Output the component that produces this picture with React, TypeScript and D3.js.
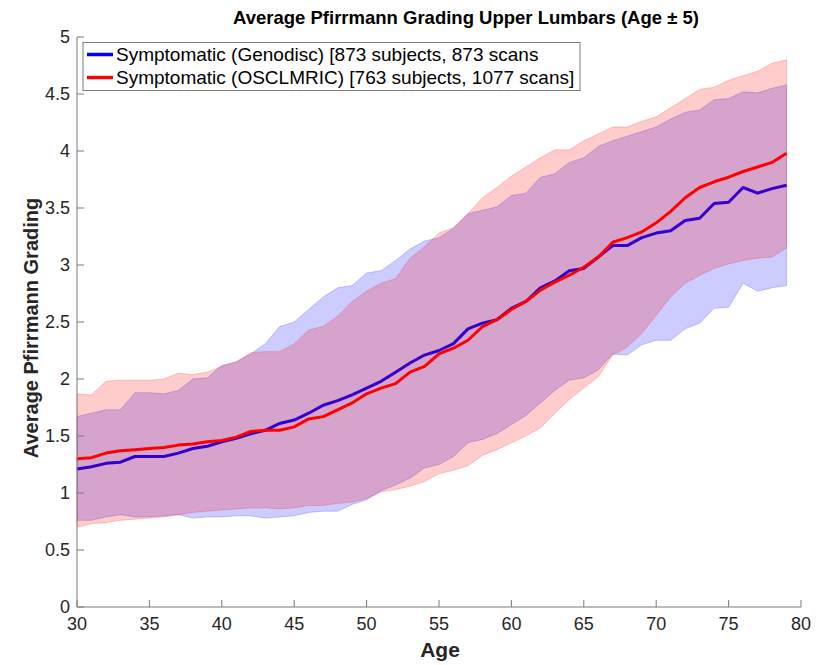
import React from 'react';
import * as d3 from 'd3';

// ages (x categories)
const ages = [30, 31, 32, 33, 34, 35, 36, 37, 38, 39, 40, 41, 42, 43, 44, 45, 46, 47, 48, 49,
  50, 51, 52, 53, 54, 55, 56, 57, 58, 59, 60, 61, 62, 63, 64, 65, 66, 67, 68, 69,
  70, 71, 72, 73, 74, 75, 76, 77, 78, 79];

// Genodisc (blue)
const genoMean = [1.21, 1.23, 1.26, 1.27, 1.32, 1.32, 1.32, 1.35, 1.39, 1.41, 1.45, 1.48, 1.52, 1.55, 1.61, 1.64, 1.70, 1.77, 1.81, 1.86,
  1.92, 1.98, 2.06, 2.14, 2.21, 2.25, 2.31, 2.44, 2.49, 2.52, 2.62, 2.68, 2.80, 2.86, 2.95, 2.97, 3.07, 3.17, 3.17, 3.24,
  3.28, 3.30, 3.39, 3.41, 3.54, 3.55, 3.68, 3.63, 3.67, 3.70];
const genoUpper = [1.67, 1.70, 1.73, 1.73, 1.88, 1.88, 1.87, 1.90, 2.00, 2.01, 2.12, 2.15, 2.22, 2.31, 2.46, 2.50, 2.61, 2.72, 2.80, 2.82,
  2.93, 2.95, 3.04, 3.14, 3.21, 3.24, 3.32, 3.45, 3.48, 3.51, 3.61, 3.63, 3.77, 3.80, 3.90, 3.94, 4.04, 4.09, 4.13, 4.17,
  4.21, 4.28, 4.34, 4.36, 4.45, 4.46, 4.52, 4.51, 4.55, 4.58];
const genoLower = [0.76, 0.76, 0.79, 0.81, 0.79, 0.79, 0.80, 0.81, 0.78, 0.79, 0.79, 0.80, 0.80, 0.78, 0.79, 0.80, 0.83, 0.84, 0.84, 0.90,
  0.94, 1.02, 1.07, 1.13, 1.22, 1.25, 1.32, 1.44, 1.47, 1.52, 1.60, 1.68, 1.79, 1.90, 1.99, 2.01, 2.08, 2.22, 2.21, 2.30,
  2.34, 2.34, 2.44, 2.49, 2.62, 2.63, 2.84, 2.77, 2.80, 2.82];

// OSCLMRIC (red)
const oscMean = [1.30, 1.31, 1.35, 1.37, 1.38, 1.39, 1.40, 1.42, 1.43, 1.45, 1.46, 1.49, 1.54, 1.55, 1.55, 1.58, 1.65, 1.67, 1.73, 1.79,
  1.87, 1.92, 1.96, 2.06, 2.11, 2.22, 2.27, 2.34, 2.46, 2.52, 2.61, 2.68, 2.78, 2.85, 2.91, 2.98, 3.07, 3.20, 3.24, 3.29,
  3.37, 3.47, 3.59, 3.68, 3.73, 3.77, 3.82, 3.86, 3.90, 3.98];
const oscUpper = [1.87, 1.86, 1.98, 1.99, 1.99, 1.99, 2.00, 2.05, 2.04, 2.06, 2.11, 2.15, 2.23, 2.24, 2.24, 2.31, 2.43, 2.46, 2.55, 2.68,
  2.77, 2.84, 2.88, 3.06, 3.16, 3.28, 3.33, 3.45, 3.59, 3.68, 3.78, 3.86, 3.94, 4.01, 4.01, 4.09, 4.15, 4.21, 4.21, 4.26,
  4.30, 4.38, 4.46, 4.54, 4.56, 4.62, 4.66, 4.70, 4.77, 4.80];
const oscLower = [0.70, 0.73, 0.74, 0.76, 0.77, 0.78, 0.79, 0.81, 0.83, 0.84, 0.85, 0.86, 0.87, 0.87, 0.86, 0.87, 0.89, 0.89, 0.91, 0.92,
  0.95, 1.01, 1.03, 1.06, 1.10, 1.17, 1.20, 1.24, 1.33, 1.38, 1.44, 1.50, 1.57, 1.70, 1.82, 1.92, 2.02, 2.21, 2.28, 2.40,
  2.56, 2.72, 2.84, 2.91, 2.97, 3.01, 3.04, 3.06, 3.07, 3.15];

const xTicks = [30, 35, 40, 45, 50, 55, 60, 65, 70, 75, 80];
const yTicks = [0, 0.5, 1, 1.5, 2, 2.5, 3, 3.5, 4, 4.5, 5];
const legendLabels = [
  'Symptomatic (Genodisc) [873 subjects, 873 scans',
  'Symptomatic (OSCLMRIC) [763 subjects, 1077 scans]',
];

const W = 821;
const H = 665;
const margin = { left: 77, right: 20, top: 37, bottom: 58 };
const FONT = '"Liberation Sans", Arial, Helvetica, sans-serif';

const App = () => {
  const x = d3.scaleLinear().domain([30, 80]).range([margin.left, W - margin.right]);
  const y = d3.scaleLinear().domain([0, 5]).range([H - margin.bottom, margin.top]);

  const band = (lo: number[], hi: number[]) =>
    d3.area<number>()
      .x((_, i) => x(ages[i]))
      .y0((_, i) => y(lo[i]))
      .y1((_, i) => y(hi[i]))(ages) || '';
  const line = (v: number[]) =>
    d3.line<number>().x((_, i) => x(ages[i])).y((_, i) => y(v[i]))(ages) || '';

  const x0 = margin.left;
  const x1 = W - margin.right;
  const yb = H - margin.bottom;
  const yt = margin.top;

  return (
    <svg width={W} height={H} style={{ position: 'absolute', left: 0, top: 0, background: '#fff' }}
      fontFamily={FONT}>
      <rect x={0} y={0} width={W} height={H} fill="#fff" />

      {/* bands and mean lines; red band drawn over blue line */}
      <path d={band(genoLower, genoUpper)} fill="#0000ff" fillOpacity={0.2}
        stroke="#0000ff" strokeOpacity={0.25} strokeWidth={0.8} />
      <path d={line(genoMean)} fill="none" stroke="#0000ff" strokeWidth={3} strokeLinejoin="round" />
      <path d={band(oscLower, oscUpper)} fill="#ff0000" fillOpacity={0.2}
        stroke="#ff0000" strokeOpacity={0.25} strokeWidth={0.8} />
      <path d={line(oscMean)} fill="none" stroke="#ff0000" strokeWidth={3} strokeLinejoin="round" />

      {/* axes */}
      <line x1={x0} x2={x0} y1={yt} y2={yb} stroke="#7a7a7a" strokeWidth={1} />
      <line x1={x0} x2={x1} y1={yb} y2={yb} stroke="#7a7a7a" strokeWidth={1} />
      {yTicks.map(t => (
        <g key={'y' + t}>
          <line x1={x0} x2={x0 + 7} y1={y(t)} y2={y(t)} stroke="#7a7a7a" />
          <text x={x0 - 7} y={y(t)} dy="0.35em" textAnchor="end" fontSize={18} fill="#262626">{t}</text>
        </g>
      ))}
      {xTicks.map(t => (
        <g key={'x' + t}>
          <line x1={x(t)} x2={x(t)} y1={yb} y2={yb - 7} stroke="#7a7a7a" />
          <text x={x(t)} y={yb + 23} textAnchor="middle" fontSize={18} fill="#262626">{t}</text>
        </g>
      ))}

      {/* labels */}
      <text x={466} y={24} textAnchor="middle" fontSize={18.5} fontWeight="bold" fill="#000">
        Average Pfirrmann Grading Upper Lumbars (Age ± 5)
      </text>
      <text x={440} y={657} textAnchor="middle" fontSize={21} fontWeight="bold" fill="#262626">Age</text>
      <text transform={`translate(38,${(yt + yb) / 2 + 6}) rotate(-90)`} textAnchor="middle" fontSize={20}
        fontWeight="bold" fill="#262626">Average Pfirrmann Grading</text>

      {/* legend */}
      <rect x={83} y={42.5} width={497} height={48} fill="#fff" stroke="#7a7a7a" strokeWidth={1} />
      {legendLabels.map((lab, i) => (
        <g key={lab}>
          <line x1={87} x2={113} y1={54.5 + i * 23} y2={54.5 + i * 23}
            stroke={i === 0 ? '#0000ff' : '#ff0000'} strokeWidth={3.5} />
          <text x={116} y={54.5 + i * 23} dy="0.35em" fontSize={19} fill="#000">{lab}</text>
        </g>
      ))}
    </svg>
  );
};

export default App;
